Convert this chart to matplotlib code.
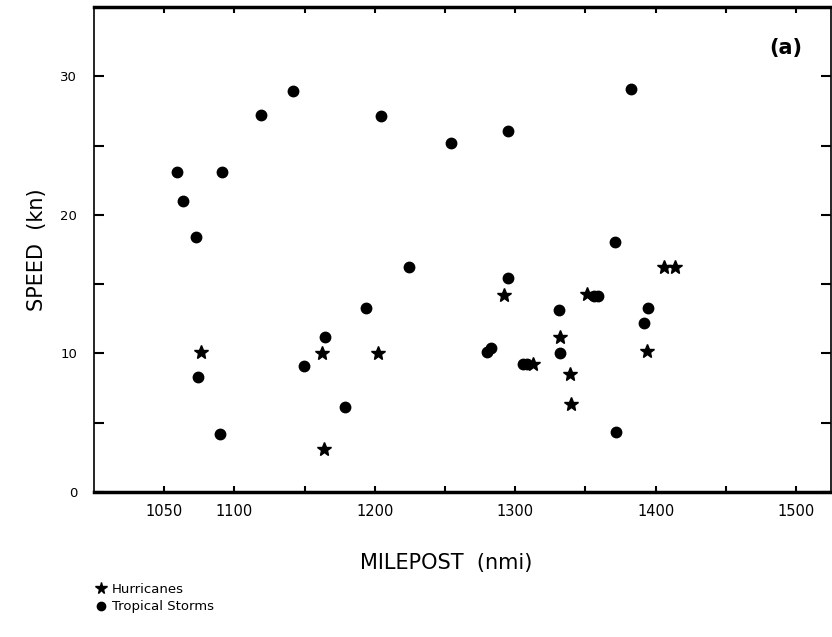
import matplotlib
matplotlib.use("Agg")
import matplotlib.pyplot as plt


# Values
HURRICANE_MILEPOST = [1076, 1162.6, 1163.8, 1202, 1292.3, 1313, 1331.9, 1339, 1340,
                      1351, 1394, 1406, 1414]
HURRICANE_SPEED = [10.1, 10.0, 3.1, 10.05, 14.2, 9.2, 11.2, 8.5, 6.35,
                   14.25, 10.15, 16.25, 16.25]

STORM_MILEPOST = [1059, 1063.6, 1072.4, 1074.3, 1090, 1091, 1119, 1141.5, 1149.6,
                  1164.5, 1178.8, 1193.7, 1204.4, 1224.1, 1254, 1280, 1283, 1294.6,
                  1294.9, 1305.5, 1308.5, 1331.2, 1331.9, 1356, 1359, 1371.1, 1371.6,
                  1382.3, 1391.5, 1394.3]
STORM_SPEED = [23.1, 21.0, 18.4, 8.25, 4.2, 23.1, 27.2, 28.9, 9.1,
               11.2, 6.1, 13.3, 27.1, 16.2, 25.2, 10.1, 10.4, 15.4,
               26.05, 9.2, 9.2, 13.1, 10.05, 14.15, 14.15, 18.05, 4.3,
               29.1, 12.2, 13.3]

X_TICKS = [1050, 1100, 1150, 1200, 1250, 1300, 1350, 1400, 1450, 1500]
X_TICK_LABELS = ["1050", "1100", "", "1200", "", "1300", "", "1400", "", "1500"]
Y_TICKS = [0, 5, 10, 15, 20, 25, 30]
Y_TICK_LABELS = ["0", "", "10", "", "20", "", "30"]

plt.rcParams.update({
    "font.family": "DejaVu Sans",
    "axes.linewidth": 1.6,
})

fig = plt.figure(figsize=(8.32, 6.37), dpi=100, facecolor="white")
ax = fig.add_axes([0.113, 0.228, 0.886, 0.761])

ax.plot(STORM_MILEPOST, STORM_SPEED, linestyle="none", marker="o",
        markersize=7.5, color="black", label="Tropical Storms")
ax.plot(HURRICANE_MILEPOST, HURRICANE_SPEED, linestyle="none", marker="*",
        markersize=10.5, color="black", label="Hurricanes")

ax.set_xlim(1000, 1525)
ax.set_ylim(0, 35)

ax.set_xticks(X_TICKS)
ax.set_xticklabels(X_TICK_LABELS, fontsize=10.5)
ax.set_yticks(Y_TICKS)
ax.set_yticklabels(Y_TICK_LABELS, fontsize=9.5)

ax.tick_params(axis="both", direction="in", top=True, right=True, width=1.5)
ax.tick_params(axis="x", length=4, pad=9)
ax.tick_params(axis="y", length=7, pad=12)
ax.spines["bottom"].set_linewidth(2.5)
ax.spines["top"].set_linewidth(2.5)
ax.spines["left"].set_linewidth(1.2)
ax.spines["right"].set_linewidth(1.2)

ax.set_xlabel("MILEPOST  (nmi)", fontsize=15)
ax.xaxis.set_label_coords(0.478, -0.126)
ax.set_ylabel("SPEED  (kn)", fontsize=15)
ax.yaxis.set_label_coords(-0.064, 0.5)

ax.text(0.961, 0.915, "(a)", transform=ax.transAxes, ha="right", va="center",
        fontsize=15, fontweight="bold")

handles, labels = ax.get_legend_handles_labels()
fig.legend([handles[1], handles[0]], [labels[1], labels[0]],
           loc="upper left", bbox_to_anchor=(0.115, 0.085),
           frameon=False, fontsize=9.5, handlelength=0.8, handletextpad=0.4,
           labelspacing=0.35, borderpad=0, borderaxespad=0, markerscale=0.8)

fig.savefig("out.png", dpi=100, facecolor="white")
